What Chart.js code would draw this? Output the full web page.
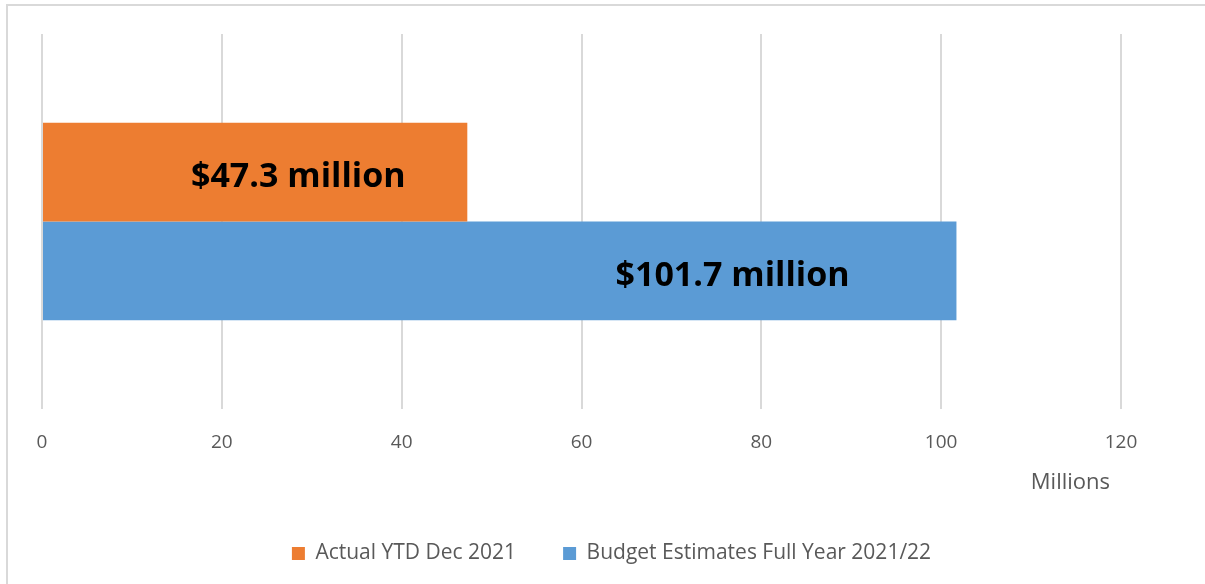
<!DOCTYPE html>
<html>
<head>
<meta charset="utf-8">
<script src="https://cdn.jsdelivr.net/npm/chart.js@4.4.0/dist/chart.umd.min.js"></script>
<style>
  html, body { margin: 0; padding: 0; background: #fff; overflow: hidden; }
  #wrap { position: relative; width: 1205px; height: 584px; overflow: hidden; }
  #frame { position: absolute; left: 6px; top: 4px; width: 1300px; height: 700px;
           border: 2px solid #d9d9d9; box-sizing: border-box; pointer-events: none; }
</style>
</head>
<body>
<div id="wrap">
  <canvas id="main" width="1205" height="584"></canvas>
  <div id="frame"></div>
</div>
<script>
const categories = [''];
const seriesNames = ['Actual YTD Dec 2021', 'Budget Estimates Full Year 2021/22'];
const actualValues = [47.3];
const budgetValues = [101.7];
const barLabels = ['$47.3 million', '$101.7 million'];
const xTicks = [0, 20, 40, 60, 80, 100, 120];

const colors = ['#ED7D31', '#5B9BD5'];
const tickColor = '#595959';

// text sits where Excel put it, expressed in axis units
const labelAt = [28.5, 76.8];

const barText = {
  id: 'barText',
  afterDatasetsDraw(chart) {
    const ctx = chart.ctx;
    const xs = chart.scales.x;
    ctx.save();
    ctx.font = 'bold 34px "Open Sans"';
    ctx.fillStyle = '#000';
    ctx.textAlign = 'center';
    ctx.textBaseline = 'middle';
    chart.data.datasets.forEach((ds, i) => {
      const bar = chart.getDatasetMeta(i).data[0];
      ctx.fillText(barLabels[i], xs.getPixelForValue(labelAt[i]), bar.y + 5);
    });
    ctx.restore();
  }
};

// legend is centred on the page, not on the plot area
const legendNudge = {
  id: 'legendNudge',
  afterLayout(chart) {
    const lg = chart.legend;
    lg.left += 30; lg.right += 30;
    lg.top += 6; lg.bottom += 6;
  }
};

new Chart(document.getElementById('main'), {
  type: 'bar',
  data: {
    labels: categories,
    datasets: [
      { label: seriesNames[0], data: actualValues, backgroundColor: colors[0] },
      { label: seriesNames[1], data: budgetValues, backgroundColor: colors[1] },
    ],
  },
  options: {
    indexAxis: 'y',
    responsive: false,
    animation: false,
    layout: { padding: { left: 42, right: 84, top: 34, bottom: 16 } },
    datasets: { bar: { barPercentage: 1, categoryPercentage: 0.527 } },
    scales: {
      x: {
        min: 0, max: 120,
        afterBuildTicks: axis => { axis.ticks = xTicks.map(v => ({ value: v })); },
        grid: { color: '#d9d9d9', lineWidth: 2, drawTicks: false },
        border: { display: false },
        ticks: { color: tickColor, font: { family: 'Open Sans', size: 19 }, padding: 22 },
        title: {
          display: true, text: 'Millions\u2002', align: 'end', color: tickColor,
          font: { family: 'Open Sans', size: 22, lineHeight: 0.65 }, padding: { top: 0, bottom: 0 },
        },
      },
      y: { display: false },
    },
    plugins: {
      legend: {
        position: 'bottom',
        labels: {
          color: tickColor, boxWidth: 13, boxHeight: 13, padding: 47,
          font: { family: 'Open Sans', size: 21 },
        },
      },
      tooltip: { enabled: false },
    },
  },
  plugins: [barText, legendNudge],
});
</script>
</body>
</html>
